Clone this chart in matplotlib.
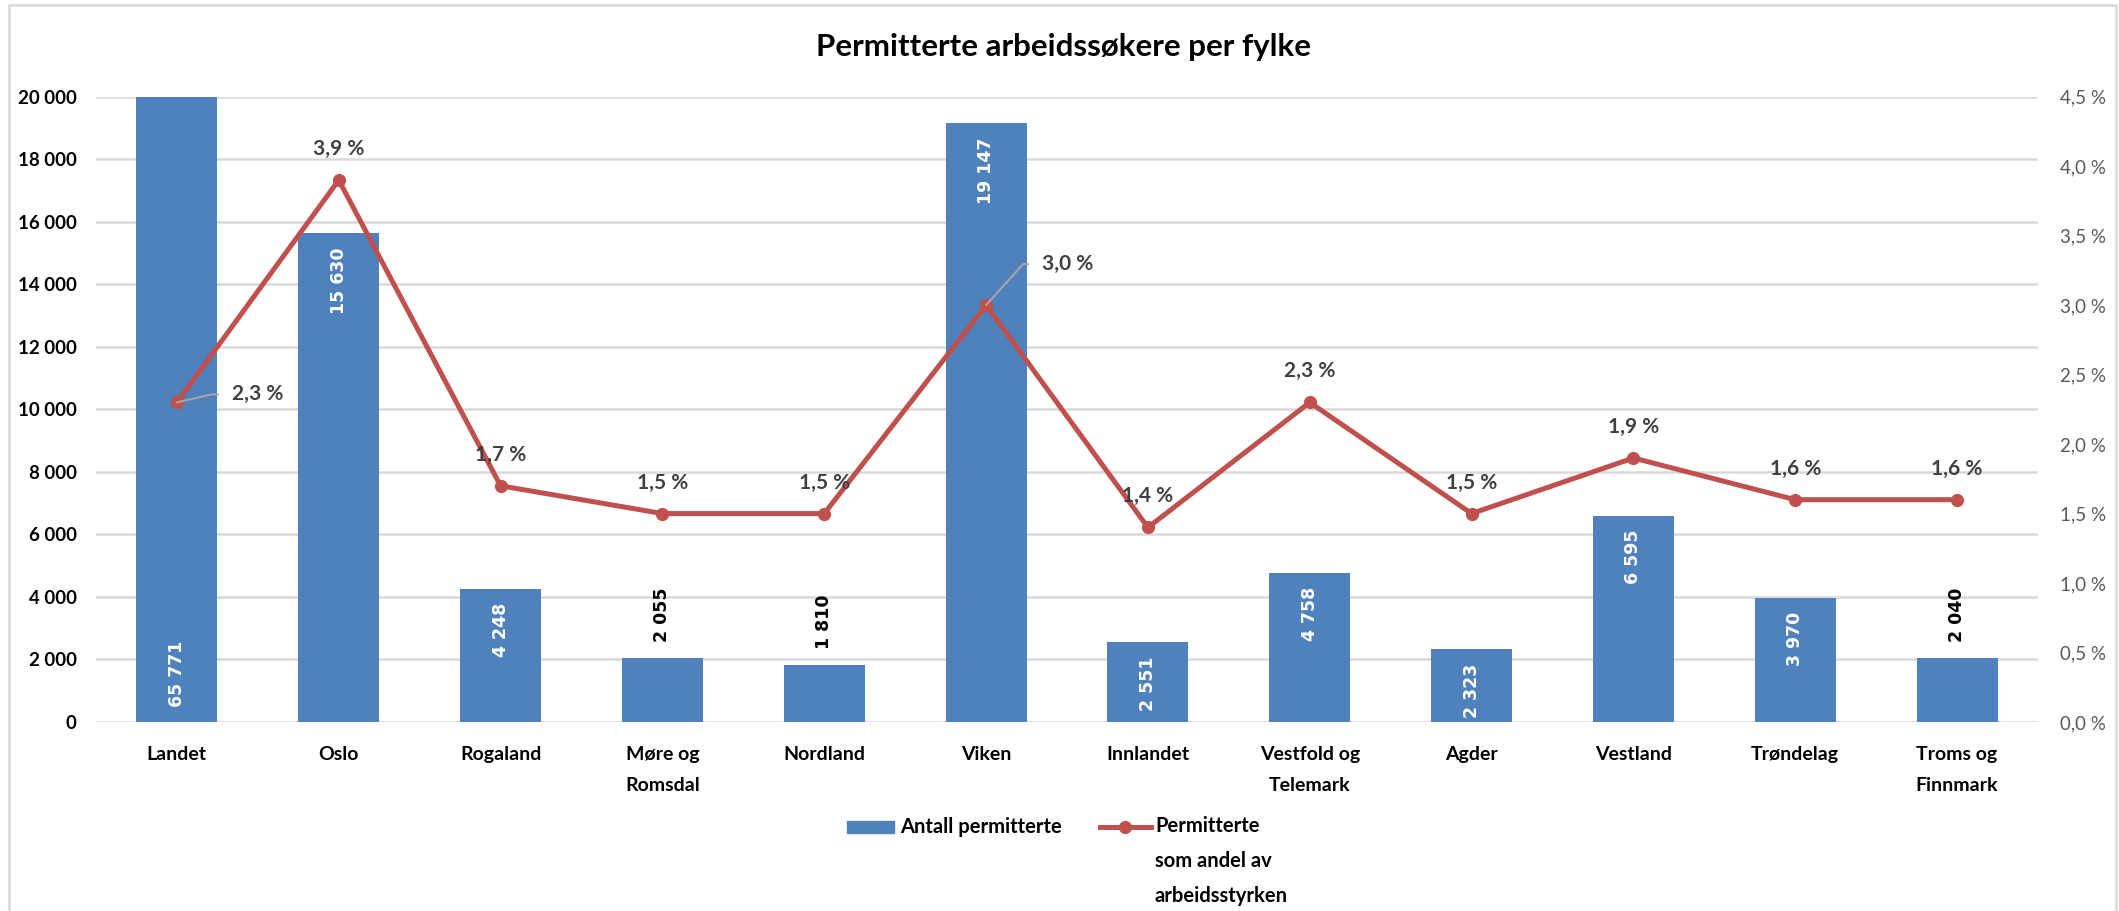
import matplotlib
matplotlib.use("Agg")
import matplotlib.pyplot as plt
from matplotlib.lines import Line2D
from matplotlib.patches import Rectangle
from matplotlib.ticker import FuncFormatter, MultipleLocator
import numpy as np

# data
fylker = ["Landet", "Oslo", "Rogaland", "Møre og\nRomsdal", "Nordland", "Viken",
          "Innlandet", "Vestfold og\nTelemark", "Agder", "Vestland", "Trøndelag",
          "Troms og\nFinnmark"]
antall = [65771, 15630, 4248, 2055, 1810, 19147, 2551, 4758, 2323, 6595, 3970, 2040]
andel = [2.3, 3.9, 1.7, 1.5, 1.5, 3.0, 1.4, 2.3, 1.5, 1.9, 1.6, 1.6]
serie_navn = ["Antall permitterte", "Permitterte\nsom andel av\narbeidsstyrken"]

BLUE = "#4f81bd"
RED = "#c0504d"
GRID = "#d9d9d9"
W, H = 2119, 911

plt.rcParams["font.family"] = ["Lato", "DejaVu Sans"]


def sep(v):
    return f"{int(round(v)):,}".replace(",", " ")


def pct(v):
    return f"{v:.1f} %".replace(".", ",")


def fx(px):
    return px / W


def fy(py):
    return 1 - py / H


fig = plt.figure(figsize=(W / 100, H / 100), dpi=100)
# outer frame (open at the bottom like the original crop)
fig.patches.append(Rectangle((fx(9), -0.05), fx(2116 - 9), fy(5) + 0.05,
                             transform=fig.transFigure, fill=False,
                             edgecolor=GRID, linewidth=1.8))

ax = fig.add_axes([fx(96), fy(722), fx(2038 - 96), (722 - 96.7) / H])
ax2 = ax.twinx()
x = np.arange(len(fylker))

# --- bars ---
ax.bar(x, antall, width=0.5, color=BLUE, zorder=2)
ax.set_ylim(0, 20000)
ax.set_xlim(-0.5, len(fylker) - 0.5)
ax.yaxis.set_major_locator(MultipleLocator(2000))
ax.yaxis.set_major_formatter(FuncFormatter(lambda v, p: sep(v)))
ax.grid(axis="y", color=GRID, linewidth=1.8, zorder=0)
ax.set_axisbelow(True)
for s in list(ax.spines.values()) + list(ax2.spines.values()):
    s.set_visible(False)
ax.tick_params(axis="both", length=0)
ax.tick_params(axis="y", pad=14, labelsize=13.5)
for t in ax.get_yticklabels():
    t.set_fontweight("bold")
ax.set_xticks(x, fylker, fontweight="bold", fontsize=14, linespacing=2.0)
ax.tick_params(axis="x", pad=17)

# bar labels
ymax = ax.get_ylim()[1]
for xi, v in zip(x, antall):
    kw = dict(textcoords="offset pixels", rotation=90, ha="center",
              fontweight="bold", fontsize=12.5, family="DejaVu Sans", zorder=4)
    if v > ymax:
        ax.annotate(sep(v), (xi, 0), xytext=(0, 15), va="bottom", color="white", **kw)
    elif v < 2100:
        ax.annotate(sep(v), (xi, v), xytext=(0, 16), va="bottom", color="black", **kw)
    else:
        ax.annotate(sep(v), (xi, v), xytext=(0, -14), va="top", color="white", **kw)

# --- line ---
ax2.plot(x, andel, color=RED, lw=3.6, marker="o", ms=8.5, zorder=3)
ax2.set_ylim(0, 4.5)
ax2.yaxis.set_major_locator(MultipleLocator(0.5))
ax2.yaxis.set_major_formatter(FuncFormatter(lambda v, p: pct(v)))
ax2.tick_params(axis="y", length=0, pad=16, labelsize=13.5, labelcolor="#595959")

for i, (xi, v) in enumerate(zip(x, andel)):
    kw = dict(textcoords="offset pixels", fontweight="bold", fontsize=15,
              color="#404040", va="center")
    if i == 0:
        ax2.annotate(pct(v), (xi, v), xytext=(55, 8), ha="left",
                     arrowprops=dict(arrowstyle="-", color="#a6a6a6", lw=1.5,
                                     relpos=(0, 0.5), shrinkA=8, shrinkB=0,
                                     connectionstyle="angle,angleA=0,angleB=13,rad=0"),
                     **kw)
    elif i == 5:
        ax2.annotate(pct(v), (xi, v), xytext=(56, 41), ha="left",
                     arrowprops=dict(arrowstyle="-", color="#a6a6a6", lw=1.5,
                                     relpos=(0, 0.5), shrinkA=8, shrinkB=0,
                                     connectionstyle="angle,angleA=0,angleB=48,rad=0"),
                     **kw)
    else:
        ax2.annotate(pct(v), (xi, v), xytext=(0, 31), ha="center", **kw)

fig.text(fx(1063), fy(47), "Permitterte arbeidssøkere per fylke",
         ha="center", va="center", fontweight="bold", fontsize=22.5)

# --- legend, drawn by hand so the multi-line entry lines up like the original ---
ly = 827
fig.patches.append(Rectangle((fx(847), fy(ly + 6)), fx(47), 12 / H,
                             transform=fig.transFigure, color=BLUE))
fig.text(fx(900), fy(ly), serie_navn[0], ha="left", va="center",
         fontweight="bold", fontsize=14.5)
fig.add_artist(Line2D([fx(1100), fx(1151)], [fy(ly), fy(ly)], color=RED, lw=3.6,
                      transform=fig.transFigure))
fig.add_artist(Line2D([fx(1125)], [fy(ly)], color=RED, marker="o", ms=8.5,
                      transform=fig.transFigure))
fig.text(fx(1155), fy(ly - 11), serie_navn[1], ha="left", va="top",
         fontweight="bold", fontsize=14.5, linespacing=1.95)

fig.savefig("out.png", dpi=100)
